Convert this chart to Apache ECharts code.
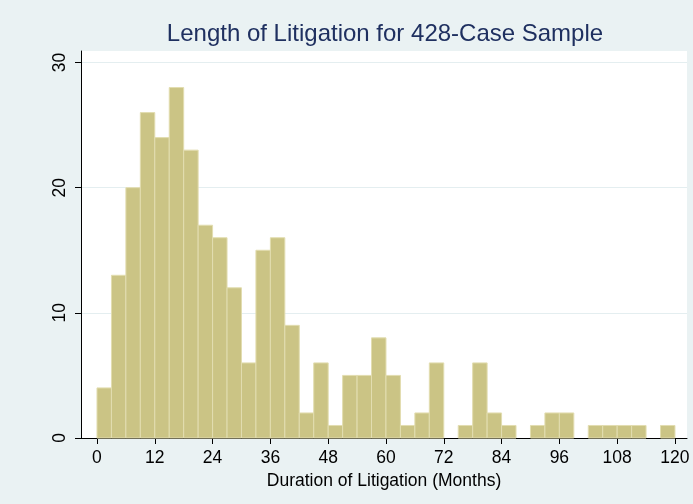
<!DOCTYPE html>
<html>
<head>
<meta charset="utf-8">
<title>Length of Litigation</title>
<script src="https://cdn.jsdelivr.net/npm/echarts@6/dist/echarts.min.js"></script>
<style>
  html, body { margin: 0; padding: 0; background: #eaf2f3; }
  #chart { width: 693px; height: 504px; }
</style>
</head>
<body>
<div id="chart"></div>
<script>
// Histogram of litigation duration, 3-month bins starting at 0
const BIN_WIDTH = 3;
const binStarts = [0, 3, 6, 9, 12, 15, 18, 21, 24, 27, 30, 33, 36, 39, 42, 45, 48, 51, 54, 57,
  60, 63, 66, 69, 72, 75, 78, 81, 84, 87, 90, 93, 96, 99, 102, 105, 108, 111, 114, 117];
const counts = [4, 13, 20, 26, 24, 28, 23, 17, 16, 12, 6, 15, 16, 9, 2, 6, 1, 5, 5, 8,
  5, 1, 2, 6, 0, 1, 6, 2, 1, 0, 1, 2, 2, 0, 1, 1, 1, 1, 0, 1];

const xTicks = [0, 12, 24, 36, 48, 60, 72, 84, 96, 108, 120];
const yTicks = [0, 10, 20, 30];

const TITLE = 'Length of Litigation for 428-Case Sample';
const X_NAME = 'Duration of Litigation (Months)';

const FONT = '"Liberation Sans", Arial, sans-serif';

// custom series rows: [start, end, count]
const bins = binStarts.map((s, i) => [s, s + BIN_WIDTH, counts[i]]);

const chart = echarts.init(document.getElementById('chart'), null, { renderer: 'canvas' });

chart.setOption({
  backgroundColor: '#eaf2f3',
  animation: false,
  title: {
    text: TITLE,
    left: 385,
    top: 22,
    padding: 0,
    textAlign: 'center',
    textStyle: { color: '#1f3060', fontFamily: FONT, fontSize: 24, fontWeight: 'normal' },
  },
  grid: {
    left: 81, right: 6, top: 51, bottom: 66,
    show: true, backgroundColor: '#ffffff', borderWidth: 0,
  },
  xAxis: {
    type: 'value',
    min: -3.32,
    max: 122.5,
    name: X_NAME,
    nameLocation: 'middle',
    nameGap: 29,
    nameTextStyle: { color: '#000', fontFamily: FONT, fontSize: 17.5 },
    axisLine: { show: true, onZero: false, lineStyle: { color: '#000', width: 1 } },
    axisTick: { show: true, length: 6, customValues: xTicks, lineStyle: { color: '#000' } },
    axisLabel: { customValues: xTicks, margin: 11, color: '#000', fontFamily: FONT, fontSize: 17.5 },
    splitLine: { show: false },
  },
  yAxis: {
    type: 'value',
    min: 0,
    max: 30.92,
    interval: 10,
    axisLine: { show: true, onZero: false, lineStyle: { color: '#000', width: 1 } },
    axisTick: { show: true, length: 6, customValues: yTicks, lineStyle: { color: '#000' } },
    axisLabel: { customValues: yTicks, rotate: 90, margin: 12, color: '#000', fontFamily: FONT, fontSize: 17.5 },
    splitLine: { show: true, lineStyle: { color: '#e4eef0', width: 1 } },
  },
  series: [{
    type: 'custom',
    data: bins,
    renderItem: function (params, api) {
      const h = api.value(2);
      if (!h) return null;
      const p0 = api.coord([api.value(0), h]);
      const p1 = api.coord([api.value(1), 0]);
      return {
        type: 'rect',
        shape: { x: p0[0], y: p0[1], width: p1[0] - p0[0], height: p1[1] - p0[1] },
        style: { fill: '#cbc485', stroke: '#e2ddb0', lineWidth: 1 },
      };
    },
  }],
});
</script>
</body>
</html>
